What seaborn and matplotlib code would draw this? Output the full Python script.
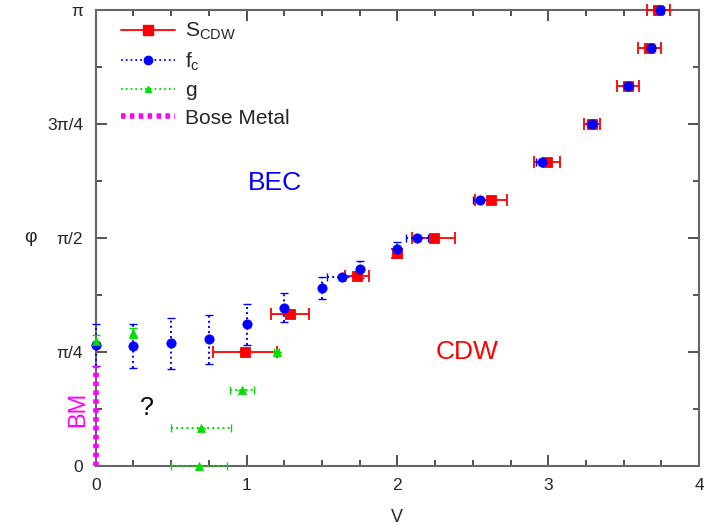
import numpy as np
import matplotlib
matplotlib.use("Agg")
import matplotlib.pyplot as plt
import seaborn as sns
from matplotlib.lines import Line2D

pi = np.pi

# S_CDW : red squares, horizontal error bars
scdw_v = [0.99, 1.29, 1.73, 2.0, 2.24, 2.62, 2.99, 3.29, 3.53, 3.67, 3.73]
scdw_phi = [pi/4, pi/3, 5*pi/12, 1.465, pi/2, 7*pi/12, 2*pi/3, 3*pi/4, 5*pi/6, 11*pi/12, pi]
scdw_verr = [0.21, 0.125, 0.08, 0.01, 0.14, 0.105, 0.085, 0.05, 0.075, 0.075, 0.075]
scdw_phierr = [0, 0, 0, 0.03, 0, 0, 0, 0, 0, 0, 0]

# f_c : blue circles
fc_v = [0, 0.25, 0.5, 0.75, 1.0, 1.25, 1.5, 1.63, 1.75, 2.0, 2.13, 2.55, 2.96, 3.29, 3.53, 3.68, 3.74]
fc_phi = [0.833, 0.827, 0.845, 0.873, 0.976, 1.091, 1.224, 1.304, 1.355, 1.495,
          pi/2, 7*pi/12, 2*pi/3, 3*pi/4, 5*pi/6, 11*pi/12, pi]
fc_verr = [0, 0, 0, 0, 0, 0, 0, 0.1, 0, 0, 0.07, 0.05, 0.04, 0.03, 0.03, 0.03, 0.03]
fc_phierr = [0.145, 0.15, 0.175, 0.17, 0.14, 0.10, 0.075, 0, 0.06, 0.05, 0, 0, 0, 0, 0, 0, 0]

# g : green triangles
g_v = [0, 0.25, 0.685, 0.70, 0.97, 1.2]
g_phi = [0.863, 0.914, 0, pi/12, pi/6, pi/4]
g_verr = [0, 0, 0.185, 0.2, 0.08, 0.015]
g_phierr = [0.04, 0.035, 0, 0, 0, 0]

# Bose metal line
bm_v = [0, 0]
bm_phi = [0, 0.69]

red, blue, green, magenta = "#ff0000", "#0000ff", "#00dd00", "#ff00ff"

sns.set_style("ticks")
plt.rcParams['font.family'] = ['Liberation Sans', 'DejaVu Sans']
plt.rcParams['mathtext.fontset'] = 'custom'
plt.rcParams['mathtext.rm'] = 'Liberation Sans'
plt.rcParams['mathtext.it'] = 'Liberation Sans'

fig, ax = plt.subplots(figsize=(7.04, 5.27), dpi=100)
fig.subplots_adjust(left=0.136, right=0.993, top=0.981, bottom=0.116)

# error bars
ax.errorbar(scdw_v, scdw_phi, xerr=scdw_verr, yerr=scdw_phierr, fmt='none',
            ecolor=red, elinewidth=1.3, capsize=4, capthick=1.3, clip_on=False,
            zorder=3)
eb = ax.errorbar(fc_v, fc_phi, xerr=fc_verr, yerr=fc_phierr, fmt='none',
                 ecolor=blue, elinewidth=1.4, capsize=3, capthick=1.0, clip_on=False,
                 zorder=3)
for c in eb[2]:
    c.set_linestyle(':')
eb = ax.errorbar(g_v, g_phi, xerr=g_verr, yerr=g_phierr, fmt='none',
                 ecolor=green, elinewidth=1.4, capsize=3, capthick=1.0, clip_on=False,
                 zorder=3)
for c in eb[2]:
    c.set_linestyle(':')

# markers
sns.scatterplot(x=scdw_v, y=scdw_phi, marker='s', s=55, color=red, edgecolor=red,
                ax=ax, clip_on=False, zorder=4)
sns.scatterplot(x=fc_v, y=fc_phi, marker='o', s=45, color=blue, edgecolor=blue,
                ax=ax, clip_on=False, zorder=5)
sns.scatterplot(x=g_v, y=g_phi, marker='^', s=35, color=green, edgecolor=green,
                ax=ax, clip_on=False, zorder=5)

ax.plot(bm_v, bm_phi, color=magenta, lw=4, linestyle=(0, (0.8, 0.8)),
        clip_on=False, zorder=6)

ax.set_xlim(0, 4)
ax.set_ylim(0, pi)
ax.set_xticks([0, 1, 2, 3, 4])
ax.set_xticks(np.arange(0, 4.01, 0.25), minor=True)
ax.set_yticks([0, pi/4, pi/2, 3*pi/4, pi], ['0', 'π/4', 'π/2', '3π/4', 'π'])
ax.set_yticks(np.arange(0, pi + 0.01, pi/8), minor=True)
ax.tick_params(which='both', direction='in', top=True, right=True,
               labelsize=12.5, color='#333333', width=1.2)
ax.tick_params(which='major', length=8, pad=9)
ax.tick_params(which='minor', length=4)
for s in ax.spines.values():
    s.set_color('#666666')
    s.set_linewidth(1.5)

ax.set_xlabel('V', fontsize=13, labelpad=11)
ax.set_ylabel('φ', fontsize=14, rotation=0, labelpad=12, va='center')

ax.text(1.19, 1.95, 'BEC', color=blue, fontsize=19, ha='center', va='center')
ax.text(2.46, pi/4, 'CDW', color=red, fontsize=19, ha='center', va='center')
ax.text(0.34, 0.40, '?', color='black', fontsize=18, ha='center', va='center')
ax.text(-0.12, 0.39, 'BM', color=magenta, fontsize=17, ha='center', va='center',
        rotation=90)

handles = [
    Line2D([], [], color=red, lw=1.3, marker='s', ms=7),
    Line2D([], [], color=blue, lw=1.3, ls=':', marker='o', ms=6),
    Line2D([], [], color=green, lw=1.3, ls=':', marker='^', ms=5),
    Line2D([], [], color=magenta, lw=4, ls=(0, (0.8, 0.8))),
]
labels = ['S$_{\\rm CDW}$', 'f$_{\\rm c}$', 'g', 'Bose Metal']
ax.legend(handles, labels, loc='upper left', bbox_to_anchor=(0.01, 1.017),
          frameon=False, fontsize=15, handlelength=2.6, labelspacing=0.4,
          handletextpad=0.5)

fig.savefig('out.png', dpi=100)
